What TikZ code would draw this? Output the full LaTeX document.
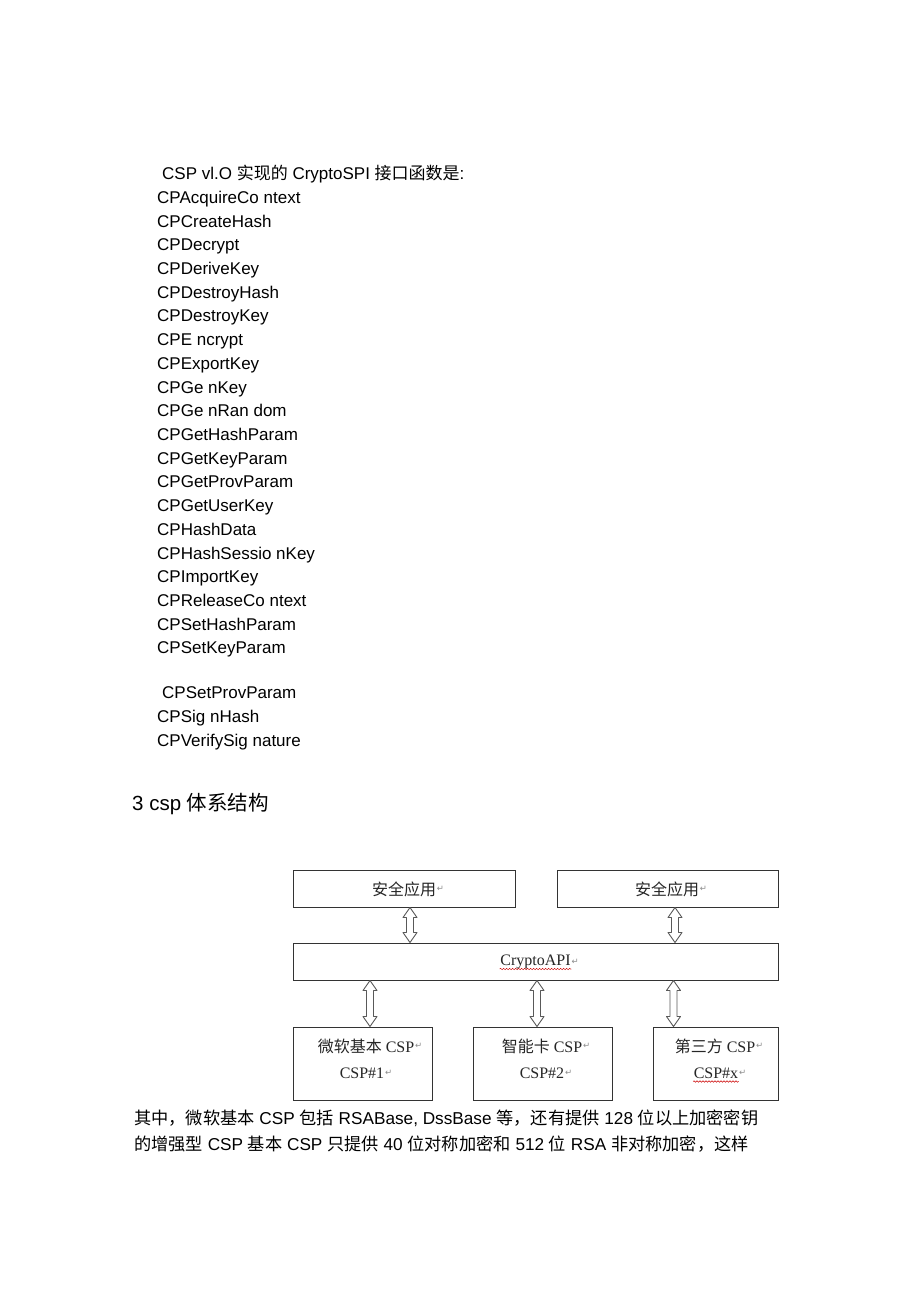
\documentclass[tikz,border=0pt]{standalone}
\usepackage{fontspec}
\setmainfont{Liberation Sans}
\newfontfamily\cjk{Noto Sans CJK SC}
\newfontfamily\tms{Liberation Serif}
\newfontfamily\djv{DejaVu Sans}
\usetikzlibrary{calc,decorations.pathmorphing}
\newcommand\zh[1]{{\cjk #1}}
\newcommand\retmk{{\djv\fontsize{8.5}{8.5}\selectfont\textcolor{black!45}{↵}}}

\begin{document}
\begin{tikzpicture}[x=1pt, y=-1pt,
	txt/.style={anchor=base west, inner sep=0pt, font=\fontsize{17}{20}\selectfont},
	box/.style={draw=black!80, line width=1pt, inner sep=0pt},
	boxtxt/.style={anchor=base, inner sep=0.5pt, text=black!85, font=\tms\fontsize{16}{18}\selectfont, label={[inner sep=0pt]right:\retmk}},
	dblarrow/.style={draw=black!65, line width=0.9pt, line join=round, to path={let \p1=(\tikztostart), \p2=(\tikztotarget) in
		(\p1) -- ++(7pt,-10pt) -- ++(-3.5pt,0) -- (\x1+3.5pt,\y2+10pt) -- ++(3.5pt,0) -- (\p2)
		-- ++(-7pt,10pt) -- ++(3.5pt,0) -- (\x1-3.5pt,\y1-10pt) -- ++(-3.5pt,0) -- cycle}},
	spell/.style={red!80!black, line width=0.5pt, decorate, decoration={snake, amplitude=0.7pt, segment length=3pt}}]
			%%%%% START %%%%%
			
			\fill[white] (0, 0) rectangle (920, 1301);
			\useasboundingbox (0, 0) rectangle (920, 1301);
			
			\node[txt] (intro) at (162, 179.5) {CSP vl.O \zh{实现的} CryptoSPI \zh{接口函数是}:};
			\node[txt] (l1) at (157, 203.2) {CPAcquireCo ntext};
			\node[txt] (l2) at (157, 227.0) {CPCreateHash};
			\node[txt] (l3) at (157, 250.7) {CPDecrypt};
			\node[txt] (l4) at (157, 274.4) {CPDeriveKey};
			\node[txt] (l5) at (157, 298.1) {CPDestroyHash};
			\node[txt] (l6) at (157, 321.8) {CPDestroyKey};
			\node[txt] (l7) at (157, 345.5) {CPE ncrypt};
			\node[txt] (l8) at (157, 369.3) {CPExportKey};
			\node[txt] (l9) at (157, 393.0) {CPGe nKey};
			\node[txt] (l10) at (157, 416.7) {CPGe nRan dom};
			\node[txt] (l11) at (157, 440.4) {CPGetHashParam};
			\node[txt] (l12) at (157, 464.1) {CPGetKeyParam};
			\node[txt] (l13) at (157, 487.9) {CPGetProvParam};
			\node[txt] (l14) at (157, 511.6) {CPGetUserKey};
			\node[txt] (l15) at (157, 535.3) {CPHashData};
			\node[txt] (l16) at (157, 559.0) {CPHashSessio nKey};
			\node[txt] (l17) at (157, 582.7) {CPImportKey};
			\node[txt] (l18) at (157, 606.5) {CPReleaseCo ntext};
			\node[txt] (l19) at (157, 630.2) {CPSetHashParam};
			\node[txt] (l20) at (157, 653.9) {CPSetKeyParam};
			
			\node[txt] (l21) at (162, 698.5) {CPSetProvParam};
			\node[txt] (l22) at (157, 722.3) {CPSig nHash};
			\node[txt] (l23) at (157, 746.0) {CPVerifySig nature};
			
			\node[txt, font=\fontsize{20.5}{24}\selectfont] (title) at (132, 810) {3 csp \zh{体系结构}};
			
			% boxes
			\node[box, minimum width=222, minimum height=37] (app1) at (404, 888.5) {};
			\node[box, minimum width=221, minimum height=37] (app2) at (667.5, 888.5) {};
			\node[box, minimum width=485, minimum height=37] (api) at (535.5, 961.5) {};
			\node[box, minimum width=139, minimum height=73] (csp1) at (362.5, 1063.5) {};
			\node[box, minimum width=139, minimum height=73] (csp2) at (542.5, 1063.5) {};
			\node[box, minimum width=125, minimum height=73] (csp3) at (715.5, 1063.5) {};
			
			\node[boxtxt] (app1txt) at (404, 895) {\zh{安全应用}};
			\node[boxtxt] (app2txt) at (667, 895) {\zh{安全应用}};
			\node[boxtxt] (apitxt) at (535.5, 965.5) {CryptoAPI};
			\node[boxtxt] (csp1a) at (366, 1052) {\zh{微软基本} CSP};
			\node[boxtxt] (csp1b) at (362, 1078) {CSP\#1};
			\node[boxtxt] (csp2a) at (542, 1052) {\zh{智能卡} CSP};
			\node[boxtxt] (csp2b) at (542, 1078) {CSP\#2};
			\node[boxtxt] (csp3a) at (715, 1052) {\zh{第三方} CSP};
			\node[boxtxt] (csp3b) at (716, 1078) {CSP\#x};
			
			\draw[spell] ([yshift=-3.5]apitxt.base west) -- ([yshift=-3.5]apitxt.base east);
			\draw[spell] ([yshift=-3.5]csp3b.base west) -- ([yshift=-3.5]csp3b.base east);
			
			% arrows
			\draw[dblarrow] ([xshift=6]app1.south) to ([xshift=6]app1.south |- api.north);
			\draw[dblarrow] ([xshift=7.5]app2.south) to ([xshift=7.5]app2.south |- api.north);
			\draw[dblarrow] ([xshift=7.5]csp1.north |- api.south) to ([xshift=7.5]csp1.north);
			\draw[dblarrow] ([xshift=-5.5]csp2.north |- api.south) to ([xshift=-5.5]csp2.north);
			\draw[dblarrow] ([xshift=-42]csp3.north |- api.south) to ([xshift=-42]csp3.north);
			
			% bottom text
			\node[txt, font=\fontsize{17.2}{20}\selectfont] (p1) at (134, 1124.5) {\zh{其中，微软基本} CSP \zh{包括} RSABase, DssBase \zh{等，还有提供} 128 \zh{位以上加密密钥}};
			\node[txt, font=\fontsize{17.2}{20}\selectfont] (p2) at (134, 1150.5) {\zh{的增强型} CSP \zh{基本} CSP \zh{只提供} 40 \zh{位对称加密和} 512 \zh{位} RSA \zh{非对称加密，这样}};
			
			%%%%% END %%%%%
\end{tikzpicture}
\end{document}
